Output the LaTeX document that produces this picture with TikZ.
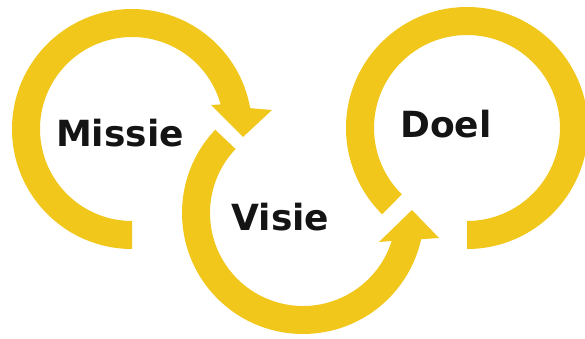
\documentclass[tikz,border=0pt]{standalone}
\usepackage{fontspec}
\setmainfont{DejaVu Sans}
\usetikzlibrary{calc}
\definecolor{gold}{RGB}{240,199,26}
\tikzset{
  ring/.style={fill=gold, draw=none},
  word/.style={font=\fontsize{36}{40}\selectfont\bfseries, text=black!92, anchor=base, inner sep=0pt}
}
\begin{document}
\begin{tikzpicture}[x=1pt,y=1pt]
\useasboundingbox (0,0) rectangle (585,338);
\clip (0,0) rectangle (585,338);
% centres
\coordinate (c1) at (132,209);
\coordinate (c2) at (303,125);
\coordinate (c3) at (467,210);
% Missie ring with arrowhead
\coordinate (m1) at (272,228);
\coordinate (m2) at (243,201);
\coordinate (m3) at (211,233);
\fill[ring] ($(c1)+(270:120)$) arc[start angle=270, end angle=10, radius=120]
  -- (m1) -- (m2) -- (m3) -- ($(c1)+(15.5:92)$)
  arc[start angle=15.5, end angle=270, radius=92] -- cycle;
% Visie ring with arrowhead
\coordinate (v1) at (439,100);
\coordinate (v2) at (412,128);
\coordinate (v3) at (379,96);
\fill[ring] ($(c2)+(136.5:121)$) arc[start angle=136.5, end angle=347.5, radius=121]
  -- (v1) -- (v2) -- (v3) -- ($(c2)+(342.5:93)$)
  arc[start angle=342.5, end angle=136.5, radius=93] -- cycle;
% Doel ring
\fill[ring] ($(c3)+(270:121)$) arc[start angle=270, end angle=585.5, radius=121]
  -- ($(c3)+(585.5:93)$) arc[start angle=585.5, end angle=270, radius=93] -- cycle;
% labels
\node[word] (missie) at (120,192) {Missie};
\node[word] (visie) at (280.5,108) {Visie};
\node[word] (doel) at (446,201) {Doel};
\end{tikzpicture}
\end{document}
